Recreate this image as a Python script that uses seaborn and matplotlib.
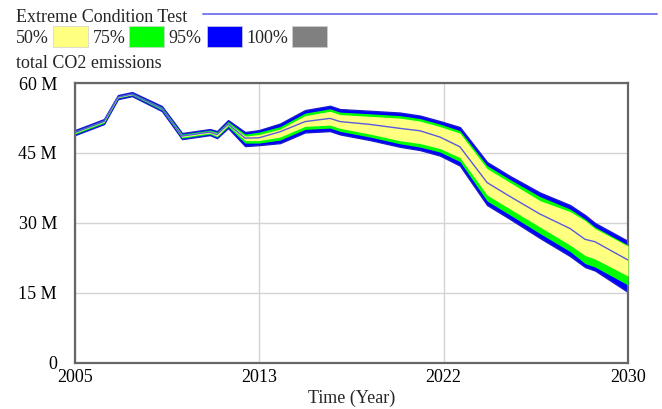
import matplotlib
matplotlib.use("Agg")
import matplotlib.pyplot as plt
import seaborn as sns
import numpy as np
from matplotlib.patches import Rectangle
from matplotlib.lines import Line2D

# ---- data (values in millions) ----
years = [2005.0, 2006.31, 2006.94, 2007.58, 2008.93, 2009.84, 2011.10, 2011.42,
         2011.92, 2012.69, 2013.32, 2014.27, 2015.40, 2016.53, 2016.98, 2018.34,
         2019.69, 2020.60, 2021.50, 2022.40, 2023.63, 2024.67, 2026.02, 2027.38,
         2028.06, 2028.51, 2030.0]
median = [49.36, 51.72, 56.97, 57.62, 54.51, 48.60, 49.46, 48.93, 51.18, 48.17,
          48.24, 49.53, 51.72, 52.40, 51.72, 51.11, 50.26, 49.74, 48.39, 46.31,
          38.63, 35.62, 31.87, 28.76, 26.44, 25.92, 22.00]
hi95 = [49.89, 52.25, 57.40, 58.05, 55.04, 49.25, 50.11, 49.68, 52.04, 49.46,
        49.89, 51.29, 54.18, 55.11, 54.40, 54.03, 53.65, 53.00, 51.82, 50.54,
        43.03, 40.02, 36.48, 33.80, 31.65, 29.94, 26.07]
hi75 = [49.68, 52.04, 57.19, 57.83, 54.83, 49.03, 49.89, 49.46, 51.72, 49.03,
        49.46, 50.64, 53.54, 54.46, 53.75, 53.39, 53.00, 52.36, 51.18, 49.78,
        42.27, 39.27, 35.62, 32.94, 30.79, 29.08, 25.21]
hi50 = [49.46, 51.82, 57.08, 57.72, 54.61, 48.82, 49.68, 49.25, 51.39, 48.60,
        48.93, 50.11, 53.00, 53.93, 53.22, 52.85, 52.47, 51.82, 50.64, 49.25,
        41.63, 38.63, 34.76, 32.40, 30.47, 28.76, 25.00]
lo50 = [49.25, 51.61, 56.87, 57.51, 54.40, 48.39, 49.25, 48.60, 50.96, 47.64,
        47.64, 48.39, 50.69, 50.96, 50.26, 49.03, 47.60, 47.00, 45.92, 43.99,
        35.94, 32.94, 29.08, 25.21, 22.96, 22.21, 18.56]
lo75 = [49.03, 51.39, 56.76, 57.40, 54.18, 48.17, 49.03, 48.39, 50.64, 47.10,
        47.10, 47.75, 50.04, 50.32, 49.61, 48.39, 46.95, 46.24, 45.17, 43.13,
        34.66, 31.65, 27.68, 23.82, 21.24, 20.49, 16.63]
lo95 = [48.82, 51.18, 56.54, 57.19, 53.97, 47.96, 48.82, 48.17, 50.32, 46.46,
        46.67, 47.10, 49.40, 49.68, 48.97, 47.75, 46.31, 45.60, 44.42, 42.27,
        33.80, 30.79, 26.72, 22.85, 20.49, 19.74, 15.13]

yticks = [0, 15, 30, 45, 60]
ytick_labels = ["0", "15 M", "30 M", "45 M", "60 M"]
xticks = [2005, 2013.333, 2021.667, 2030]
xtick_labels = ["2005", "2013", "2022", "2030"]
legend_labels = ["50%", "75%", "95%", "100%"]
legend_colors = ["#ffff80", "#00ff00", "#0000ff", "#808080"]

# ---- style ----
sns.set_style("white")
plt.rcParams["font.family"] = ["Liberation Serif", "DejaVu Serif"]
FS = 13

W, H = 662, 409
fig = plt.figure(figsize=(W / 100, H / 100), dpi=100)
fx = lambda x: x / W
fy = lambda y: 1 - y / H

ax = fig.add_axes([fx(75), fy(362.5), (628 - 75) / W, (362.5 - 83) / H])

ax.fill_between(years, lo95, hi95, color="#0000ff", lw=1.0, edgecolor="#1a1ad0", zorder=2)
ax.fill_between(years, lo75, hi75, color="#00ff00", lw=0, zorder=3)
ax.fill_between(years, lo50, hi50, color="#ffff80", lw=0, zorder=4)
sns.lineplot(x=years, y=median, ax=ax, color="#5a5ae0", lw=1, zorder=5)

ax.set_xlim(2005, 2030)
ax.set_ylim(0, 60)
ax.set_xticks(xticks)
ax.set_xticklabels(xtick_labels)
ax.set_yticks(yticks)
ax.set_yticklabels(ytick_labels)
ax.grid(True, color="#d4d4d4", lw=1, zorder=0)
ax.set_axisbelow(True)
for s in ax.spines.values():
    s.set_color("#666666")
    s.set_linewidth(1.6)
ax.tick_params(length=0, labelsize=FS, colors="black")
ax.tick_params(axis="y", pad=13)
ax.tick_params(axis="x", pad=5)
ax.set_xlabel("Time (Year)", fontsize=FS, labelpad=2)
ax.set_ylabel("")

# ---- header texts and legend ----
fig.text(fx(16), fy(22), "Extreme Condition Test", fontsize=FS, va="baseline", ha="left")
fig.add_artist(Line2D([fx(203), fx(657)], [fy(14), fy(14)], color="#7b7bf5", lw=1.4))

text_x = [16, 93, 168, 246]
sw_x = [53, 129, 207, 292]
for lab, col, tx, sx in zip(legend_labels, legend_colors, text_x, sw_x):
    fig.text(fx(tx), fy(43), lab, fontsize=FS, va="baseline", ha="left")
    fig.add_artist(Rectangle((fx(sx), fy(47)), 35 / W, 21 / H,
                             transform=fig.transFigure, facecolor=col,
                             edgecolor="#d0d0d0", lw=0.5))

fig.text(fx(16), fy(68), "total CO2 emissions", fontsize=FS, va="baseline", ha="left")

fig.savefig("out.png", dpi=100)
